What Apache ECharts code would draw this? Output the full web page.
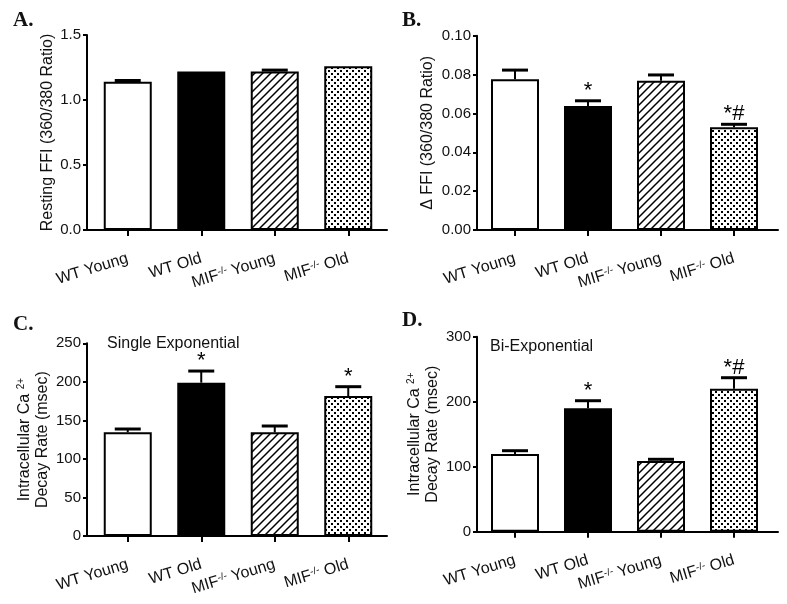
<!DOCTYPE html>
<html><head><meta charset="utf-8">
<script src="https://cdn.jsdelivr.net/npm/echarts@6/dist/echarts.min.js"></script>
<style>html,body{margin:0;padding:0;background:#fff}#c{width:787px;height:604px}</style>
</head><body><div id="c"></div>
<script>
// ---- data ----
const categories = ['WT Young', 'WT Old', 'MIF-/- Young', 'MIF-/- Old'];

const restingMean = [1.14, 1.22, 1.22, 1.26];
const restingErr  = [0.01, 0, 0.01, 0];
const restingAnn  = ['', '', '', ''];
const restingTicks = ['0.0', '0.5', '1.0', '1.5'];

const deltaMean = [0.0776, 0.0638, 0.0768, 0.0529];
const deltaErr  = [0.0047, 0.0027, 0.0030, 0.0015];
const deltaAnn  = ['', '*', '', '*#'];
const deltaTicks = ['0.00', '0.02', '0.04', '0.06', '0.08', '0.10'];

const singleMean = [134.5, 198.9, 134.5, 181.6];
const singleErr  = [4.3, 15.1, 8.2, 12.1];
const singleAnn  = ['', '*', '', '*'];
const singleTicks = ['0', '50', '100', '150', '200', '250'];

const biMean = [119.5, 189.8, 108.8, 220.0];
const biErr  = [5.1, 11.7, 2.6, 16.9];
const biAnn  = ['', '*', '', '*#'];
const biTicks = ['0', '100', '200', '300'];

// ---- patterns ----
function hatchPattern() {
  const c = document.createElement('canvas'); c.width = 8; c.height = 8;
  const g = c.getContext('2d');
  g.fillStyle = '#fff'; g.fillRect(0, 0, 8, 8);
  g.strokeStyle = '#000'; g.lineWidth = 1.5;
  g.beginPath();
  g.moveTo(-1, 9); g.lineTo(9, -1);
  g.moveTo(-3, 3); g.lineTo(3, -3);
  g.moveTo(5, 11); g.lineTo(11, 5);
  g.stroke();
  return c;
}
function dotPattern() {
  const c = document.createElement('canvas'); c.width = 6; c.height = 6;
  const g = c.getContext('2d');
  g.fillStyle = '#fff'; g.fillRect(0, 0, 6, 6);
  g.fillStyle = '#000';
  g.fillRect(1, 1, 2, 2);
  g.fillRect(4, 4, 2, 2);
  return c;
}
const fills = ['#ffffff', '#000000',
  { image: hatchPattern(), repeat: 'repeat' },
  { image: dotPattern(), repeat: 'repeat' }];

const FONT = '"Liberation Sans", Arial, sans-serif';

const yNameRich = {
  a: { fontSize: 16, lineHeight: 18, fontFamily: FONT, color: '#111' },
  s: { fontSize: 10, lineHeight: 18, verticalAlign: 'top', fontFamily: FONT, color: '#111' }
};

const panels = [
  { mean: restingMean, err: restingErr, ann: restingAnn, ticks: restingTicks,
    name: 'Resting FFI (360/380 Ratio)', nameGap: 30,
    frame: { left: 87, top: 35, width: 300, height: 195 }, dataLeft: 91, dataWidth: 294 },
  { mean: deltaMean, err: deltaErr, ann: deltaAnn, ticks: deltaTicks,
    name: 'Δ FFI (360/380 Ratio)', nameGap: 40,
    frame: { left: 477, top: 35.7, width: 301, height: 194.3 }, dataLeft: 478.5, dataWidth: 292 },
  { mean: singleMean, err: singleErr, ann: singleAnn, ticks: singleTicks,
    name: '{a|Intracellular Ca }{s|2+}\n{a|Decay Rate (msec)}', nameGap: 30,
    frame: { left: 87, top: 343.3, width: 300, height: 192.7 }, dataLeft: 91, dataWidth: 294 },
  { mean: biMean, err: biErr, ann: biAnn, ticks: biTicks,
    name: '{a|Intracellular Ca }{s|2+}\n{a|Decay Rate (msec)}', nameGap: 32,
    frame: { left: 477, top: 336.7, width: 301, height: 195 }, dataLeft: 478.5, dataWidth: 292 }
];

const grid = [], xAxis = [], yAxis = [], series = [];
panels.forEach((p, k) => {
  const tv = p.ticks.map(Number);
  const yMin = tv[0], yMax = tv[tv.length - 1], yInt = tv[1] - tv[0];
  const fi = 2 * k, di = 2 * k + 1;
  grid.push({ left: p.frame.left, top: p.frame.top, width: p.frame.width, height: p.frame.height });
  grid.push({ left: p.dataLeft, top: p.frame.top, width: p.dataWidth, height: p.frame.height });
  // frame axes
  xAxis.push({ type: 'value', gridIndex: fi, min: 0, max: 1,
    axisLine: { show: true, lineStyle: { color: '#000', width: 2 } },
    axisTick: { show: false }, axisLabel: { show: false }, splitLine: { show: false } });
  yAxis.push({ type: 'value', gridIndex: fi, min: yMin, max: yMax, interval: yInt,
    axisLine: { show: true, lineStyle: { color: '#000', width: 2 } },
    axisTick: { show: true, length: 4, lineStyle: { color: '#000', width: 2 } },
    splitLine: { show: false },
    axisLabel: { margin: 6, fontSize: 15, fontFamily: FONT, color: '#111',
      formatter: v => { const i = tv.findIndex(t => Math.abs(t - v) < 1e-9); return i >= 0 ? p.ticks[i] : ''; } },
    name: p.name, nameLocation: 'middle', nameGap: p.nameGap,
    nameTextStyle: { fontSize: 16, fontFamily: FONT, color: '#111', lineHeight: 18, rich: yNameRich } });
  // data axes
  xAxis.push({ type: 'category', gridIndex: di, data: categories,
    axisLine: { show: true, lineStyle: { color: 'rgba(0,0,0,0)' } },
    axisTick: { show: true, alignWithLabel: true, length: 6, lineStyle: { color: '#000', width: 2 } },
    axisLabel: { interval: 0, rotate: 17, margin: 28, fontSize: 16, fontFamily: FONT, color: '#111',
      formatter: v => v.replace('MIF-/-', 'MIF{s|-/-}'),
      rich: { s: { fontSize: 10, verticalAlign: 'top', lineHeight: 16, fontFamily: FONT, color: '#111' } } } });
  yAxis.push({ type: 'value', gridIndex: di, min: yMin, max: yMax, interval: yInt, show: false });

  series.push({ type: 'bar', xAxisIndex: di, yAxisIndex: di, barWidth: 48, z: 2,
    itemStyle: { borderColor: '#000', borderWidth: 2 },
    data: p.mean.map((v, i) => ({ value: v, itemStyle: { color: fills[i] } })) });
  series.push({ type: 'custom', xAxisIndex: di, yAxisIndex: di, z: 3,
    encode: { x: 0, y: 1 },
    data: p.mean.map((v, i) => [i, v, p.err[i]]),
    renderItem: (params, api) => {
      const i = api.value(0), m = api.value(1), e = api.value(2);
      const b = api.coord([i, m]), t = api.coord([i, m + e]);
      const ch = [];
      if (e > 0) {
        ch.push({ type: 'line', shape: { x1: b[0], y1: b[1], x2: t[0], y2: t[1] }, style: { stroke: '#000', lineWidth: 2 } });
        ch.push({ type: 'line', shape: { x1: t[0] - 13, y1: t[1], x2: t[0] + 13, y2: t[1] }, style: { stroke: '#000', lineWidth: 3 } });
      }
      if (p.ann[i]) ch.push({ type: 'text', style: { text: p.ann[i], x: t[0], y: t[1] + 1,
        align: 'center', verticalAlign: 'bottom', font: '22px ' + FONT, fill: '#000' } });
      return { type: 'group', children: ch };
    } });
});

const letterStyle = { fontSize: 21, fontWeight: 'bold', fontFamily: '"Liberation Serif", "Times New Roman", serif', color: '#111' };
const subStyle = { fontSize: 16, fontWeight: 'normal', fontFamily: FONT, color: '#111' };
const title = [
  { text: 'A.', left: 13, top: 10, padding: 0, textStyle: letterStyle },
  { text: 'B.', left: 402, top: 10, padding: 0, textStyle: letterStyle },
  { text: 'C.', left: 13, top: 314, padding: 0, textStyle: letterStyle },
  { text: 'D.', left: 402, top: 310, padding: 0, textStyle: letterStyle },
  { text: 'Single Exponential', left: 107, top: 336, padding: 0, textStyle: subStyle },
  { text: 'Bi-Exponential', left: 490, top: 339, padding: 0, textStyle: subStyle }
];

const chart = echarts.init(document.getElementById('c'), null, { renderer: 'canvas' });
chart.setOption({ backgroundColor: '#fff', animation: false, title, grid, xAxis, yAxis, series });
</script>
</body></html>
